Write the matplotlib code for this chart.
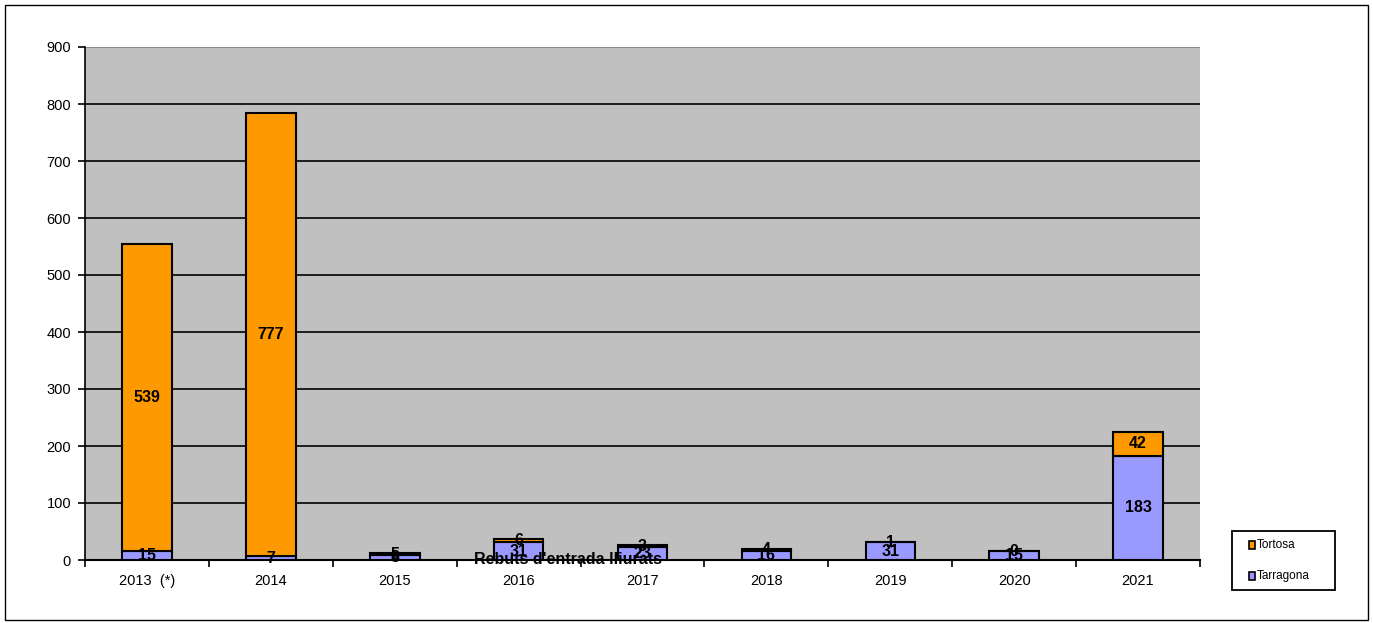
import matplotlib.pyplot as plt
import matplotlib.patches as mpatches
import numpy as np

plt.rcParams['font.family'] = ['Liberation Sans', 'DejaVu Sans']

years = ["2013  (*)", "2014", "2015", "2016", "2017", "2018", "2019", "2020", "2021"]
tarragona = [15, 7, 8, 31, 23, 16, 31, 15, 183]
tortosa = [539, 777, 5, 6, 3, 4, 1, 0, 42]

col_tarr = "#9999FF"
col_tort = "#FF9900"

W, H = 1373, 623
fig = plt.figure(figsize=(13.73, 6.23), dpi=100)
ax = fig.add_axes([85/W, 1-560/H, (1200-85)/W, (560-47)/H])
ax.set_facecolor("#C0C0C0")

x = np.arange(len(years))
w = 0.4
b1 = ax.bar(x, tarragona, w, color=col_tarr, edgecolor="black", linewidth=1.5, zorder=3)
b2 = ax.bar(x, tortosa, w, bottom=tarragona, color=col_tort, edgecolor="black", linewidth=1.5, zorder=3)

for i in range(len(years)):
    ax.text(x[i], tarragona[i] / 2, str(tarragona[i]), ha="center", va="center",
            fontsize=11.5, fontweight="bold", zorder=4)
    ax.text(x[i], tarragona[i] + tortosa[i] / 2, str(tortosa[i]), ha="center", va="center",
            fontsize=11.5, fontweight="bold", zorder=4)

ax.set_xlim(-0.5, len(years) - 0.5)
ax.set_ylim(0, 900)
ax.set_yticks(range(0, 901, 100))
ax.yaxis.grid(True, color="black", linewidth=1.2, zorder=1)
ax.set_axisbelow(True)

ax.set_xticks(x)
ax.set_xticklabels(years, fontsize=10.5)
ax.set_xticks(np.arange(-0.5, len(years), 1), minor=True)
ax.tick_params(axis="x", which="major", length=0, pad=10)
ax.tick_params(axis="x", which="minor", length=5, width=1.2, direction="out")
ax.tick_params(axis="y", length=5, width=1.2, direction="out", labelsize=10.5, pad=5)
ax.get_ygridlines()[-1].set_color("#808080")

ax.spines["right"].set_visible(False)
ax.spines["top"].set_visible(False)
ax.spines["left"].set_linewidth(1.2)
ax.spines["bottom"].set_linewidth(1.5)

fig.text(568/W, 1-560/H, "Rebuts d'entrada lliurats", ha="center", va="center",
         fontsize=11.5, fontweight="bold")

# legend drawn by hand (box like the reference)
fig.patches.append(mpatches.Rectangle((1232/W, 1-590/H), 103/W, 59/H,
                                      transform=fig.transFigure, fill=False,
                                      edgecolor="black", linewidth=1.3))
for name, col, yc in [("Tortosa", col_tort, 545), ("Tarragona", col_tarr, 576)]:
    fig.patches.append(mpatches.Rectangle((1249/W, 1-(yc+4)/H), 6/W, 8/H,
                                          transform=fig.transFigure, facecolor=col,
                                          edgecolor="black", linewidth=1.2))
    fig.text(1257/W, 1-yc/H, name, ha="left", va="center", fontsize=8.5)

# outer border
fig.patches.append(mpatches.Rectangle((5/W, 3/H), 1363/W, 615/H,
                                      transform=fig.transFigure, fill=False,
                                      edgecolor="black", linewidth=1))

fig.savefig("out.png", dpi=100)
